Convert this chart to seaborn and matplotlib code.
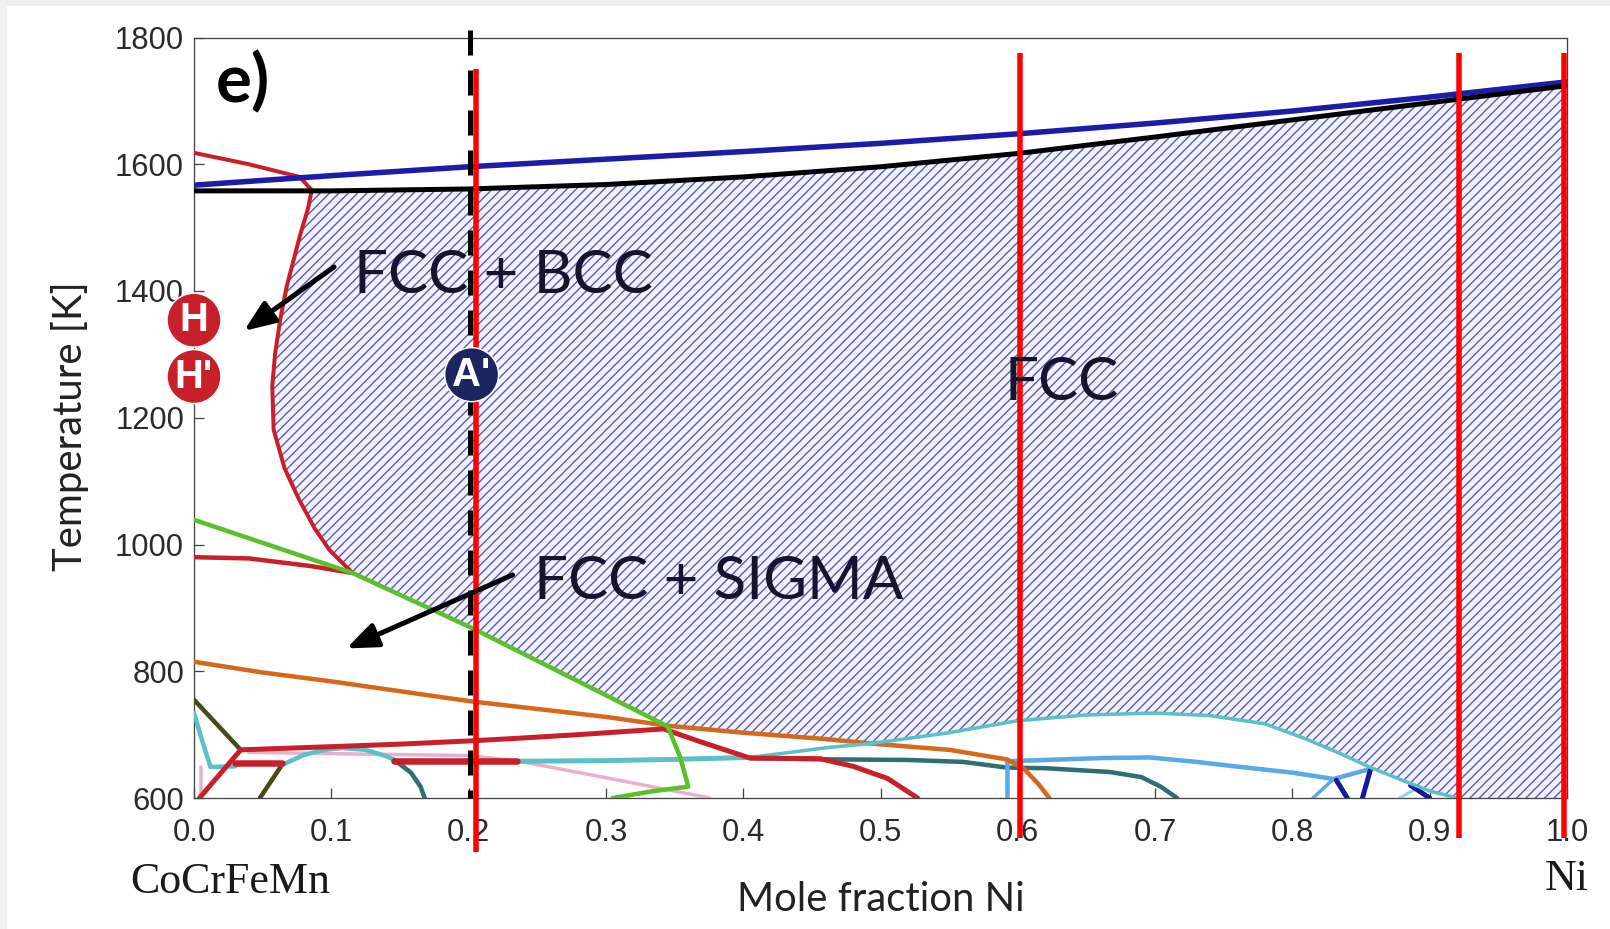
import numpy as np
import matplotlib
matplotlib.use("Agg")
import matplotlib.pyplot as plt
from matplotlib.patches import Rectangle
import seaborn as sns

DPI = 84


def pt(px):
    """Convert a size in output pixels to points."""
    return px * 72.0 / DPI


# ---------------- phase boundary data (mole fraction Ni, temperature K) -------------
liq_x = [0.0, 0.1, 0.2, 0.3, 0.4, 0.5, 0.6, 0.7, 0.8, 0.9, 1.0]
liq_T = [1567, 1582, 1596, 1608, 1620, 1633, 1648, 1665, 1684, 1706, 1730]

sol_x = [0.0, 0.1, 0.2, 0.3, 0.4, 0.5, 0.6, 0.7, 0.8, 0.9, 1.0]
sol_T = [1558, 1558, 1561, 1568, 1580, 1596, 1617, 1643, 1670, 1697, 1724]

# FCC / FCC+BCC boundary
bcc_x = [0.0, 0.04, 0.077, 0.0857, 0.083, 0.077, 0.0675, 0.0627, 0.059, 0.057,
         0.058, 0.066, 0.0765, 0.088, 0.0988, 0.1155]
bcc_T = [1618, 1600, 1580, 1559, 1530, 1486, 1407, 1354, 1300, 1250,
         1181, 1120, 1071, 1025, 991, 955]

bcc_low_x = [0.0, 0.04, 0.085, 0.1155]
bcc_low_T = [980, 978, 966, 955]

sigma_x = [0.0, 0.1155, 0.2017, 0.28, 0.345, 0.354, 0.36, 0.332, 0.305]
sigma_T = [1039, 955, 869, 784, 713, 665, 618, 610, 600]

orange_x = [0.0, 0.05, 0.1, 0.2, 0.3, 0.345, 0.4, 0.46, 0.493, 0.55, 0.592,
            0.605, 0.615, 0.623]
orange_T = [815, 798, 784, 753, 728, 714, 703, 693, 686, 676, 661,
            645, 622, 600]

cyan_b_x = [0.405, 0.463, 0.493, 0.55, 0.6, 0.65, 0.7, 0.74, 0.78, 0.81,
            0.835, 0.857, 0.88, 0.9, 0.92]
cyan_b_T = [664, 680, 686, 703, 722, 731, 734, 730, 717, 693,
            670, 648, 628, 611, 600]

cyan_a_x = [0.0, 0.006, 0.012, 0.03]
cyan_a_T = [734, 690, 649, 650]
cyan_arc_x = [0.064, 0.08, 0.095, 0.108, 0.125, 0.14, 0.146]
cyan_arc_T = [652, 668, 676, 679, 676, 666, 660]
cyan_c_x = [0.237, 0.3, 0.35, 0.405]
cyan_c_T = [658, 659, 661, 664]
cyan_d_x = [0.878, 0.893]
cyan_d_T = [600, 618]

teal_a_x = [0.146, 0.158, 0.165, 0.168]
teal_a_T = [660, 640, 618, 600]
teal_b_x = [0.405, 0.46, 0.52, 0.56, 0.592, 0.62, 0.667, 0.69, 0.704, 0.716]
teal_b_T = [663, 661, 660, 657, 648, 647, 641, 633, 618, 600]

sky_a_x = [0.592, 0.592]
sky_a_T = [600, 658]
sky_b_x = [0.592, 0.62, 0.66, 0.696, 0.73, 0.762, 0.8, 0.83, 0.857]
sky_b_T = [658, 660, 663, 664, 657, 649, 640, 630, 646]
sky_c_x = [0.83, 0.815]
sky_c_T = [630, 600]

navy_a_x = [0.832, 0.84]
navy_a_T = [628, 600]
navy_b_x = [0.857, 0.851]
navy_b_T = [646, 600]
navy_c_x = [0.886, 0.9]
navy_c_T = [620, 600]

red_low_x = [0.034, 0.1, 0.15, 0.2, 0.234, 0.28, 0.342, 0.3685, 0.405,
             0.456, 0.48, 0.505, 0.527]
red_low_T = [676, 681, 685, 690, 694, 700, 709, 689, 663,
             662, 650, 631, 600]
red_diag_x = [0.004, 0.034]
red_diag_T = [600, 676]
red_bar1_x = [0.03, 0.064]
red_bar1_T = [655, 655]
red_bar2_x = [0.146, 0.235]
red_bar2_T = [658, 658]

olive_a_x = [0.0, 0.034]
olive_a_T = [755, 676]
olive_b_x = [0.064, 0.048]
olive_b_T = [652, 600]

pink_a_x = [0.005, 0.005]
pink_a_T = [600, 649]
pink_b_x = [0.04, 0.1, 0.2, 0.237, 0.3, 0.376]
pink_b_T = [672, 670, 667, 658, 632, 600]

# compositions marked with vertical lines
alloy_x = [0.2054, 0.6016, 0.9214, 0.9978]
alloy_top = [1751, 1775, 1775, 1775]
alloy_bottom = [515, 537, 537, 537]
ref_x = 0.201

# labelled alloys
badge_labels = ["H", "H'", "A'"]
badge_x = [0.0, 0.0, 0.2022]
badge_T = [1354, 1265, 1268]
badge_colors = ["#c8202a", "#c8202a", "#1b2660"]

region_labels = ["FCC + BCC", "FCC + SIGMA", "FCC"]
region_x = [0.1165, 0.2476, 0.59]
region_T = [1397, 914, 1228]

arrow_tail = [(0.102, 1438), (0.232, 952)]
arrow_head = [(0.0364, 1337), (0.111, 836)]

xticks = [0.0, 0.1, 0.2, 0.3, 0.4, 0.5, 0.6, 0.7, 0.8, 0.9, 1.0]
xtick_labels = ["0.0", "0.1", "0.2", "0.3", "0.4", "0.5", "0.6", "0.7", "0.8", "0.9", "1.0"]
yticks = [600, 800, 1000, 1200, 1400, 1600, 1800]
ytick_labels = ["600", "800", "1000", "1200", "1400", "1600", "1800"]

# ------------------------------------------------------------------------------------
sns.set_theme(style="white")
plt.rcParams["font.family"] = ["Liberation Sans", "DejaVu Sans"]
plt.rcParams["hatch.linewidth"] = pt(1.4)

fig = plt.figure(figsize=(1610 / DPI, 929 / DPI), dpi=DPI)
fig.patch.set_facecolor("white")
ax = fig.add_axes([194 / 1610, 1 - 798 / 929, 1373 / 1610, 760.5 / 929])
ax.set_facecolor("white")

# soft frame along top and left edge
fig.patches.append(Rectangle((0, 1 - 6 / 929), 1, 6 / 929, transform=fig.transFigure,
                             facecolor="#ededed", edgecolor="none", zorder=0))
fig.patches.append(Rectangle((0, 0), 7 / 1610, 1, transform=fig.transFigure,
                             facecolor="#f1f1f1", edgecolor="none", zorder=0))


def curve(x, y, color, lw_px, z=3, **kw):
    sns.lineplot(x=np.asarray(x, float), y=np.asarray(y, float), sort=False,
                 estimator=None, color=color, linewidth=pt(lw_px), ax=ax,
                 zorder=z, **kw)


# single-phase FCC field (hatched)
sx = np.asarray(sol_x)
sT = np.asarray(sol_T)
top = sx > bcc_x[3]
poly_x = np.r_[bcc_x[3], sx[top], 1.0, cyan_b_x[:1:-1], orange_x[7:4:-1],
               sigma_x[4:0:-1], bcc_x[15:3:-1]]
poly_T = np.r_[bcc_T[3], sT[top], 600, cyan_b_T[:1:-1], orange_T[7:4:-1],
               sigma_T[4:0:-1], bcc_T[15:3:-1]]
ax.fill(poly_x, poly_T, facecolor="#f2f2fb", edgecolor="#5a5abd", hatch="///",
        linewidth=0, zorder=1)

# phase boundaries
RED = "#c8202a"
curve(pink_a_x, pink_a_T, "#e8b0cc", 3.5)
curve(pink_b_x, pink_b_T, "#e8b0cc", 3.5)
curve(olive_a_x, olive_a_T, "#4a4a16", 4.5)
curve(olive_b_x, olive_b_T, "#4a4a16", 4.5)
curve(cyan_a_x, cyan_a_T, "#5cc0c8", 4.5)
curve(cyan_arc_x, cyan_arc_T, "#5cc0c8", 4.5)
curve(cyan_c_x, cyan_c_T, "#5cc0c8", 5)
curve(cyan_d_x, cyan_d_T, "#8fd6d6", 3)
curve(teal_a_x, teal_a_T, "#2f6e74", 4.5)
curve(teal_b_x, teal_b_T, "#2f6e74", 4.5)
curve(sky_a_x, sky_a_T, "#5aa8e6", 4.5)
curve(sky_b_x, sky_b_T, "#5aa8e6", 4.5)
curve(sky_c_x, sky_c_T, "#5aa8e6", 3.5)
curve(navy_a_x, navy_a_T, "#18189a", 5)
curve(navy_b_x, navy_b_T, "#18189a", 5)
curve(navy_c_x, navy_c_T, "#18189a", 5)
curve(orange_x, orange_T, "#d4691e", 4.5)
curve(cyan_b_x, cyan_b_T, "#5cc0c8", 3.5)
curve(red_low_x, red_low_T, RED, 5)
curve(red_diag_x, red_diag_T, RED, 5)
curve(red_bar1_x, red_bar1_T, RED, 6.5)
curve(red_bar2_x, red_bar2_T, RED, 6.5)
curve(sigma_x, sigma_T, "#5cc02c", 4.5, z=4)
curve(bcc_low_x, bcc_low_T, RED, 4.5)
curve(bcc_x, bcc_T, RED, 4)
curve(liq_x, liq_T, "#1c1ca8", 5.5, z=5)
curve(sol_x, sol_T, "black", 5, z=5)

# reference composition (dashed) and alloy compositions (red)
curve([ref_x, ref_x], [1812, 600], "black", 5, z=6, linestyle=(0, (5, 3)),
      clip_on=False)
for xa, t0, t1 in zip(alloy_x, alloy_top, alloy_bottom):
    curve([xa, xa], [t0, t1], "#ff0000", 5.5, z=7, clip_on=False,
          solid_capstyle="butt")

# alloy badges
sns.scatterplot(x=badge_x, y=badge_T, s=pt(54) ** 2, c=badge_colors,
                edgecolor="white", linewidth=pt(1.5), ax=ax, zorder=8,
                clip_on=False, legend=False)
for lab, bx, bT in zip(badge_labels, badge_x, badge_T):
    ax.text(bx, bT, lab, color="white", fontsize=pt(40), fontweight="bold",
            ha="center", va="center", zorder=9, family=["Liberation Sans"])

# region labels and arrows
TXT = "#14142a"
for lab, rx, rT in zip(region_labels, region_x, region_T):
    ax.text(rx, rT, lab, fontsize=pt(60), color=TXT, ha="left", va="baseline",
            family=["Lato", "DejaVu Sans"], zorder=10)
for (tx, tT), (hx, hT) in zip(arrow_tail, arrow_head):
    ax.annotate("", xy=(hx, hT), xytext=(tx, tT),
                arrowprops=dict(arrowstyle="-|>,head_length=1.0,head_width=0.4",
                                color="black", lw=pt(5), mutation_scale=pt(26),
                                shrinkA=0, shrinkB=0),
                zorder=10)

ax.text(0.016, 1698, "e)", fontsize=pt(67), fontweight="bold", color="black",
        ha="left", va="baseline", family=["Lato", "DejaVu Sans"], zorder=10)

# axes
ax.set_xlim(0, 1)
ax.set_ylim(600, 1800)
ax.set_xticks(xticks)
ax.set_xticklabels(xtick_labels)
ax.set_yticks(yticks)
ax.set_yticklabels(ytick_labels)
ax.tick_params(axis="both", direction="in", length=pt(10), width=pt(1.3),
               color="#444444", labelcolor="#2a2a2a", labelsize=pt(31),
               bottom=True, left=True)
ax.tick_params(axis="x", pad=pt(20))
ax.tick_params(axis="y", pad=pt(10))
for sp in ax.spines.values():
    sp.set_visible(True)
    sp.set_color("#444444")
    sp.set_linewidth(pt(1.3))
    sp.set_zorder(2)

ax.set_xlabel("Mole fraction Ni", fontsize=pt(40), color="#222222",
              family=["Lato", "DejaVu Sans"])
ax.xaxis.set_label_coords(0.5, -0.1486)
ax.xaxis.label.set_va("baseline")
ax.set_ylabel("Temperature [K]", fontsize=pt(40), color="#222222",
              family=["Lato", "DejaVu Sans"])
ax.yaxis.set_label_coords(-0.0903, 0.489)
ax.yaxis.label.set_va("center")

ax.text(-0.0466, -0.1249, "CoCrFeMn", transform=ax.transAxes, fontsize=pt(44),
        color="#1a1a1a", ha="left", va="baseline",
        family=["Liberation Serif", "DejaVu Serif"])
ax.text(0.984, -0.121, "Ni", transform=ax.transAxes, fontsize=pt(44),
        color="#1a1a1a", ha="left", va="baseline",
        family=["Liberation Serif", "DejaVu Serif"])

fig.savefig("out.png", dpi=DPI, facecolor="white")
